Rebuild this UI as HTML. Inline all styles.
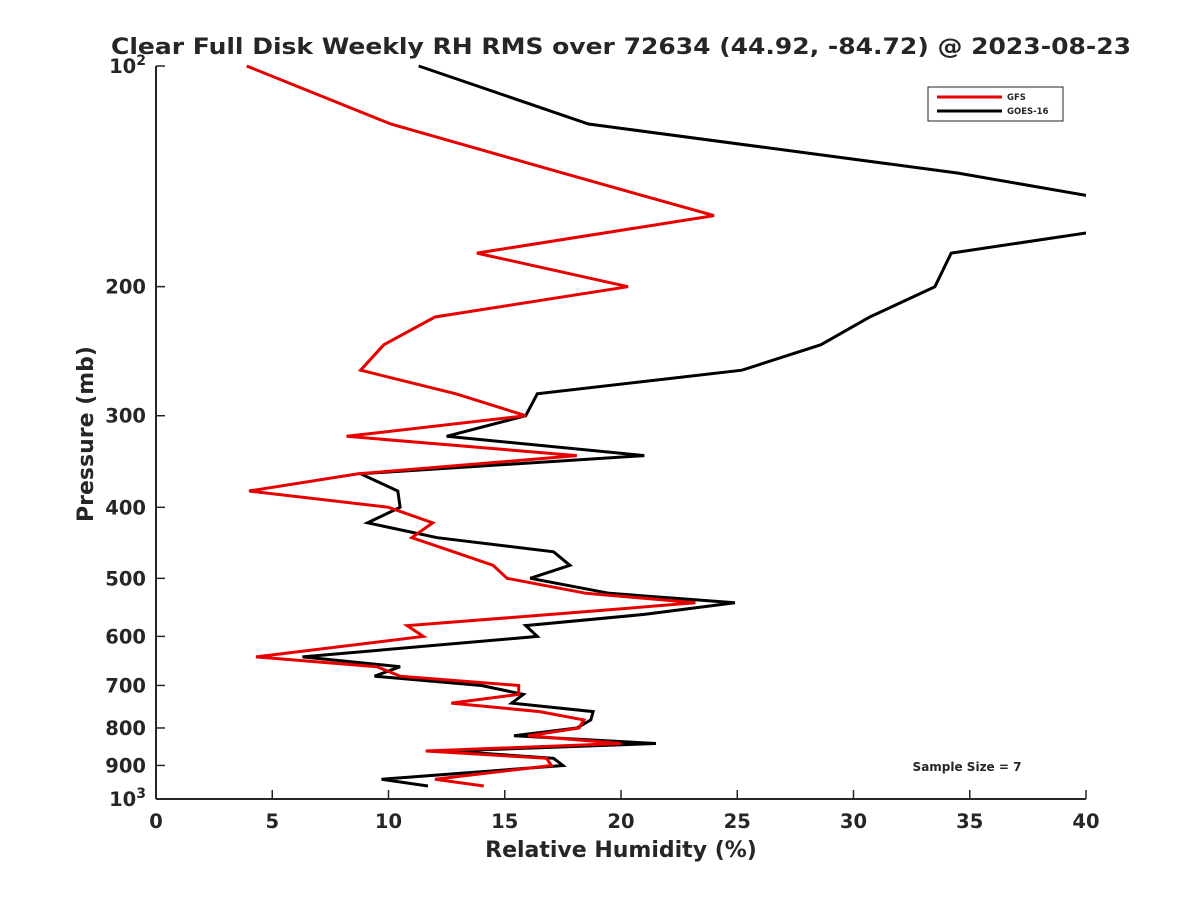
<!DOCTYPE html>
<html><head><meta charset="utf-8"><style>
body{margin:0;background:#fff;}
svg text{font-family:"DejaVu Sans","Liberation Sans",sans-serif;font-weight:bold;fill:#262626;}
</style></head><body>
<svg id="chart" width="1200" height="900" xmlns="http://www.w3.org/2000/svg">
<defs><clipPath id="clip"><rect x="156" y="60" width="930" height="745"/></clipPath></defs>
<text x="621" y="54" font-size="22" text-anchor="middle" fill="#000" textLength="1020" lengthAdjust="spacingAndGlyphs">Clear Full Disk Weekly RH RMS over 72634 (44.92, -84.72) @ 2023-08-23</text>
<g id="axes"></g>
<g id="series" clip-path="url(#clip)"></g>
<g>
<rect x="928" y="87" width="135" height="34" fill="#fff" stroke="#262626" stroke-width="1"/>
<line x1="937" y1="97" x2="1002" y2="97" stroke="#e80000" stroke-width="3"/>
<text x="1007" y="100" font-size="8.5">GFS</text>
<line x1="937" y1="111" x2="1002" y2="111" stroke="#000" stroke-width="3"/>
<text x="1007" y="114" font-size="8.5">GOES-16</text>
</g>
<text x="967" y="771" font-size="12" text-anchor="middle" fill="#000">Sample Size = 7</text>
<text x="621" y="857" font-size="22" text-anchor="middle">Relative Humidity (%)</text>
<text transform="translate(93,434) rotate(-90)" font-size="22" text-anchor="middle">Pressure (mb)</text>
</svg>
<script>
const pressures=[100,120,140,160,180,200,220,240,260,280,300,320,340,360,380,400,420,440,460,480,500,524,540,560,580,600,640,660,680,700,720,740,760,780,800,820,840,860,880,900,940,960];
const gfsRH=[3.9,10.1,17.5,24.0,13.8,20.3,12.0,9.8,8.8,12.9,15.9,8.2,18.1,8.7,4.0,10.0,11.9,11.0,12.8,14.5,15.1,18.5,23.2,17.0,10.8,11.5,4.3,9.5,10.5,15.6,15.6,12.7,16.5,18.4,18.2,16.0,20.0,11.6,16.8,17.0,12.0,14.1];
const goesRH=[11.3,18.6,34.5,45.0,34.2,33.5,30.7,28.6,25.2,16.4,15.9,12.5,21.0,8.8,10.4,10.5,9.1,12.1,17.1,17.8,16.1,19.5,24.9,21.0,15.9,16.4,6.3,10.5,9.4,14.0,15.8,15.3,18.8,18.7,18.1,15.4,21.5,12.6,17.1,17.5,9.7,11.7];
const xTicks=[0,5,10,15,20,25,30,35,40];
const yTicks=[100,200,300,400,500,600,700,800,900,1000];
const yTickLabels=["10|2","200","300","400","500","600","700","800","900","10|3"];
const X0=156,X1=1086,Y0=66,Y1=799;
const xs=v=>X0+(v-0)/40*(X1-X0);
const ys=p=>Y0+(Math.log10(p)-2)*(Y1-Y0);
const NS="http://www.w3.org/2000/svg";
const axes=document.getElementById('axes'),ser=document.getElementById('series');
function mk(tag,attrs,parent){const e=document.createElementNS(NS,tag);for(const k in attrs)e.setAttribute(k,attrs[k]);parent.appendChild(e);return e;}
let yl=mk('line',{x1:X0,y1:Y0,x2:X0,y2:Y1,stroke:'#262626','stroke-width':2},axes);


let xl=mk('line',{x1:X0,y1:Y1,x2:X1,y2:Y1,stroke:'#262626','stroke-width':2},axes);


xTicks.forEach(t=>{const x=xs(t);
 const l=mk('line',{x1:x,y1:Y1,x2:x,y2:Y1-9,stroke:'#262626','stroke-width':1.5},axes);
 
 
 const tx=mk('text',{x:x,y:828,'font-size':19.5,'text-anchor':'middle'},axes);tx.textContent=t;
 
 
});
yTicks.forEach((p,i)=>{const y=ys(p);
 const l=mk('line',{x1:X0,y1:y,x2:X0+9,y2:y,stroke:'#262626','stroke-width':1.5},axes);
 
 
 const lab=yTickLabels[i];
 if(lab.includes('|')){
  const parts=lab.split('|');
  const tx=mk('text',{x:146,y:y+7,'font-size':19.5,'text-anchor':'end'},axes);
  
  
  const a=mk('tspan',{},tx);a.textContent=parts[0];
  const b=mk('tspan',{dy:-8,'font-size':14},tx);b.textContent=parts[1];
 } else {
  const tx=mk('text',{x:146,y:y+7,'font-size':19.5,'text-anchor':'end'},axes);tx.textContent=lab;
  
  
 }
});
function line(vals,color,name){
 const pts=vals.map((v,i)=>xs(v).toFixed(1)+','+ys(pressures[i]).toFixed(1)).join(' ');
 const pl=mk('polyline',{points:pts,fill:'none',stroke:color,'stroke-width':3,'stroke-linejoin':'miter'},ser);
 
 
}
line(goesRH,'#000','goes16-line');
line(gfsRH,'#e80000','gfs-line');
</script>
</body></html>
